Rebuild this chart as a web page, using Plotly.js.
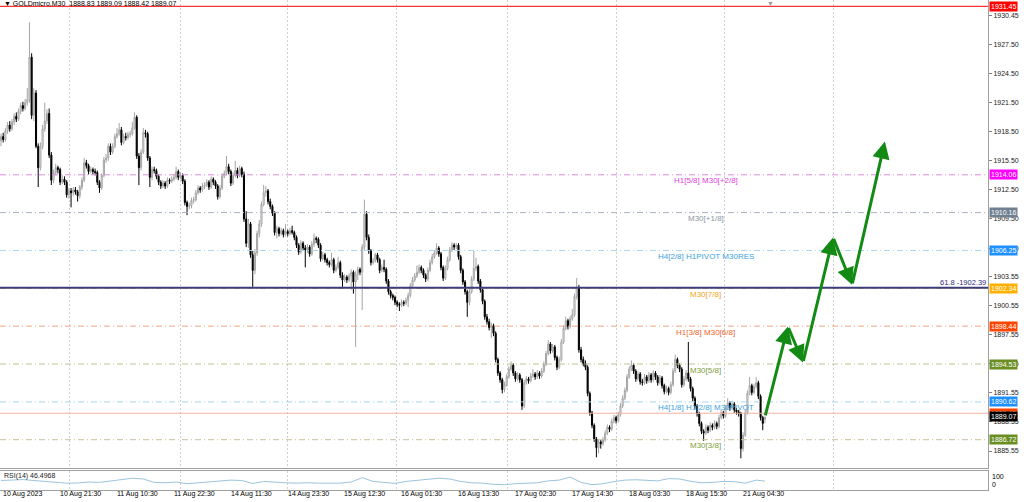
<!DOCTYPE html>
<html><head><meta charset="utf-8">
<script src="https://cdn.plot.ly/plotly-3.0.1.min.js"></script>
<style>html,body{margin:0;padding:0;background:#fff;}#chart{width:1024px;height:502px;}</style>
</head><body><div id="chart"></div>
<script>
const symbolTitle = '\u25BC GOLDmicro,M30  1888.83 1889.09 1888.42 1889.07';

const opens = [
1917.6,1918.0,1917.7,1918.6,1919.2,1918.8,1919.5,1920.1,1919.8,1920.6,
1921.2,1920.9,1921.5,1921.8,1926.2,1920.2,1922.5,1917.0,1914.8,1917.0,
1918.8,1919.6,1920.4,1916.1,1913.5,1914.3,1914.8,1914.6,1913.3,1913.6,
1913.3,1912.0,1912.4,1912.2,1912.5,1912.3,1911.9,1912.8,1913.5,1915.3,
1915.0,1914.4,1914.6,1914.4,1914.3,1913.3,1912.7,1914.0,1915.6,1915.8,
1917.0,1916.4,1917.0,1918.0,1918.3,1918.7,1917.4,1918.0,1917.9,1918.2,
1918.3,1918.9,1920.0,1916.0,1914.8,1916.4,1918.4,1918.3,1915.8,1913.8,
1914.6,1914.5,1913.9,1913.3,1912.9,1913.2,1912.9,1913.5,1913.4,1913.6,
1913.8,1914.4,1913.8,1914.0,1913.4,1911.2,1910.8,1910.9,1911.4,1911.5,
1912.2,1912.7,1912.5,1912.9,1913.0,1913.3,1912.8,1913.6,1913.3,1912.9,
1911.8,1912.7,1913.9,1914.2,1914.9,1914.4,1913.2,1914.0,1914.5,1914.0,
1914.7,1914.1,1909.5,1907.0,1909.0,1905.8,1904.2,1906.0,1908.0,1909.0,
1911.0,1912.2,1912.4,1911.3,1910.8,1910.1,1908.1,1908.5,1908.0,1908.3,
1907.9,1908.2,1908.0,1908.3,1908.1,1907.6,1906.8,1906.1,1907.0,1906.5,
1906.3,1906.6,1905.9,1906.9,1907.5,1907.4,1906.8,1905.4,1905.8,1905.3,
1905.0,1904.8,1905.3,1904.2,1904.5,1905.0,1903.7,1903.2,1903.5,1903.2,
1903.6,1904.0,1903.0,1903.8,1904.3,1904.0,1906.6,1910.0,1907.6,1906.2,
1905.0,1905.2,1905.8,1905.3,1904.2,1904.5,1904.3,1903.1,1902.0,1901.6,
1901.4,1900.9,1900.7,1900.6,1900.9,1900.8,1901.1,1901.6,1902.6,1903.2,
1903.6,1904.0,1904.5,1904.2,1903.7,1903.3,1904.2,1905.0,1905.6,1906.0,
1906.5,1905.9,1904.5,1903.4,1904.4,1905.3,1906.3,1906.8,1906.6,1906.8,
1905.6,1904.2,1903.0,1902.0,1900.9,1902.0,1903.3,1904.4,1904.6,1903.1,
1902.2,1901.0,1899.4,1898.9,1898.3,1898.5,1897.7,1895.0,1893.6,1892.9,
1891.9,1892.4,1893.2,1894.0,1894.4,1893.6,1893.0,1893.4,1892.9,1890.2,
1892.6,1893.0,1892.8,1893.3,1893.5,1893.2,1893.6,1893.3,1893.8,1894.5,
1895.6,1896.6,1895.9,1896.3,1895.2,1894.2,1895.0,1896.8,1898.2,1899.0,
1898.4,1899.2,1899.6,1901.5,1902.4,1896.0,1895.0,1894.6,1894.2,1891.5,
1889.5,1888.2,1886.8,1885.9,1886.5,1886.3,1886.7,1887.4,1888.0,1887.8,
1888.6,1889.0,1888.7,1889.3,1890.2,1891.0,1891.8,1893.2,1894.0,1894.4,
1893.8,1893.0,1893.5,1892.7,1892.6,1893.2,1892.8,1893.4,1892.9,1893.6,
1893.2,1892.6,1893.1,1892.3,1891.7,1892.0,1891.6,1892.4,1893.8,1895.0,
1894.4,1894.0,1892.4,1893.0,1893.6,1893.0,1892.0,1891.0,1890.2,1889.4,
1888.4,1887.6,1887.4,1888.0,1887.7,1888.2,1888.0,1888.4,1888.1,1889.0,
1889.5,1889.2,1890.0,1890.5,1890.0,1890.4,1889.8,1889.6,1889.4,1885.8,
1887.2,1889.5,1891.5,1892.3,1891.6,1892.2,1892.6,1891.2,1889.0,1888.83];

const highs = [
1918.3,1918.4,1918.9,1919.5,1919.6,1919.8,1920.4,1920.5,1920.9,1921.5,
1921.6,1921.9,1923.0,1929.8,1926.6,1923.0,1922.8,1917.3,1917.4,1919.2,
1921.5,1920.8,1920.9,1916.4,1914.6,1915.2,1915.0,1914.8,1914.0,1913.9,
1913.5,1912.7,1912.7,1912.8,1912.8,1912.5,1913.0,1913.8,1915.8,1915.6,
1915.2,1914.9,1914.8,1914.7,1914.5,1913.5,1914.2,1915.9,1916.2,1917.3,
1917.3,1917.3,1918.3,1918.9,1919.4,1919.0,1918.3,1918.4,1918.5,1918.6,
1919.5,1920.5,1920.2,1916.3,1916.7,1918.9,1918.7,1918.5,1916.0,1914.9,
1914.9,1914.7,1914.1,1913.5,1913.5,1913.4,1913.8,1913.7,1913.9,1914.1,
1914.9,1914.6,1914.3,1914.2,1913.6,1911.4,1911.2,1911.7,1911.8,1912.5,
1913.0,1912.9,1913.2,1913.3,1913.6,1913.5,1913.9,1913.8,1913.5,1913.1,
1913.0,1914.2,1914.5,1916.0,1915.2,1914.6,1914.3,1915.5,1914.8,1915.0,
1914.9,1914.4,1910.3,1909.5,1909.2,1906.2,1906.4,1908.3,1909.4,1911.3,
1913.0,1912.9,1912.6,1911.6,1911.0,1910.3,1908.8,1908.7,1908.6,1908.5,
1909.0,1908.4,1908.6,1908.8,1908.3,1907.8,1907.0,1907.3,1907.2,1906.8,
1906.9,1906.8,1907.2,1908.0,1907.7,1907.6,1907.0,1906.1,1906.0,1905.5,
1905.2,1906.0,1905.5,1904.8,1905.6,1905.2,1904.0,1903.8,1903.7,1903.9,
1904.3,1904.2,1904.1,1904.6,1904.5,1906.9,1911.5,1910.3,1907.9,1906.4,
1905.5,1906.0,1906.0,1905.5,1904.8,1905.3,1904.5,1903.3,1902.2,1901.8,
1901.6,1901.1,1900.9,1901.2,1901.1,1901.4,1901.9,1902.9,1903.5,1903.9,
1904.7,1904.8,1904.7,1904.4,1903.9,1904.5,1905.3,1905.9,1906.3,1907.0,
1906.7,1906.1,1904.7,1904.7,1905.6,1906.6,1907.1,1907.0,1907.0,1907.0,
1905.8,1904.4,1903.2,1902.2,1902.3,1903.6,1906.2,1905.5,1904.8,1903.3,
1902.4,1901.2,1899.7,1899.2,1898.8,1898.7,1897.9,1895.2,1893.8,1893.1,
1892.7,1893.5,1894.3,1894.8,1894.6,1893.8,1893.7,1893.6,1893.1,1892.9,
1893.3,1893.2,1893.6,1894.0,1893.7,1893.9,1893.8,1894.1,1894.8,1895.9,
1897.0,1896.8,1896.6,1896.5,1895.4,1895.3,1897.1,1898.5,1899.4,1899.2,
1899.5,1900.2,1901.8,1903.4,1902.7,1896.3,1895.3,1894.9,1894.4,1891.7,
1889.7,1888.4,1887.0,1886.8,1886.7,1887.0,1887.7,1888.3,1888.2,1888.9,
1889.3,1889.2,1889.6,1890.5,1891.3,1892.1,1893.5,1894.3,1894.9,1894.6,
1894.0,1893.8,1893.7,1893.0,1893.5,1893.4,1893.7,1893.6,1893.9,1893.8,
1893.4,1893.4,1893.3,1892.5,1892.3,1892.2,1892.7,1894.1,1895.5,1895.2,
1894.6,1894.2,1893.3,1893.9,1896.8,1893.2,1892.2,1891.2,1890.4,1889.6,
1888.6,1887.8,1888.3,1888.2,1888.5,1888.4,1888.7,1888.6,1889.3,1889.8,
1889.7,1890.3,1891.0,1890.7,1890.7,1890.6,1890.0,1889.8,1889.6,1887.5,
1889.8,1891.8,1893.2,1892.5,1892.5,1893.2,1892.8,1891.4,1889.2,1889.09];

const lows = [
1917.0,1917.4,1917.5,1918.3,1918.5,1918.6,1919.2,1919.5,1919.6,1920.3,
1920.6,1920.7,1921.2,1921.5,1919.8,1919.6,1916.8,1912.8,1914.5,1916.7,
1918.5,1919.3,1915.8,1913.0,1913.2,1914.0,1914.2,1913.0,1913.1,1913.0,
1911.7,1911.6,1910.7,1911.9,1912.0,1911.3,1911.6,1912.5,1913.3,1914.7,
1914.1,1914.2,1914.1,1914.0,1913.0,1912.2,1912.5,1913.8,1915.3,1915.5,
1916.1,1916.2,1916.8,1917.8,1918.1,1917.1,1917.2,1917.6,1917.7,1917.9,
1918.1,1918.7,1915.7,1913.0,1914.5,1916.2,1917.9,1915.5,1912.8,1913.5,
1914.2,1913.6,1913.0,1912.6,1912.7,1912.6,1912.7,1913.1,1913.2,1913.4,
1913.6,1913.5,1913.6,1913.1,1910.9,1909.9,1910.5,1910.6,1911.1,1911.3,
1912.0,1912.2,1912.3,1912.6,1912.8,1912.5,1912.6,1913.0,1912.6,1911.5,
1911.6,1912.5,1913.7,1914.0,1914.1,1912.9,1913.0,1913.8,1913.7,1913.8,
1913.8,1909.2,1906.6,1906.5,1905.5,1902.5,1903.8,1905.7,1907.6,1908.7,
1910.8,1911.8,1911.0,1910.5,1909.8,1907.8,1907.5,1907.7,1907.8,1907.6,
1907.7,1907.7,1907.8,1907.9,1907.3,1906.5,1905.8,1905.9,1906.2,1904.5,
1906.0,1905.6,1905.7,1906.6,1907.0,1906.5,1905.1,1905.2,1905.0,1904.7,
1904.5,1904.6,1903.9,1904.0,1904.3,1903.4,1902.5,1903.0,1902.9,1903.0,
1902.2,1901.8,1896.3,1903.2,1903.7,1900.1,1906.3,1907.3,1905.9,1904.7,
1904.8,1905.0,1905.0,1903.9,1904.0,1904.0,1902.8,1901.7,1901.3,1901.1,
1900.6,1900.4,1900.0,1900.4,1900.5,1900.6,1900.4,1901.4,1902.4,1903.0,
1903.4,1903.8,1903.9,1903.4,1903.0,1903.1,1904.0,1904.8,1905.4,1905.8,
1905.6,1904.2,1903.1,1903.2,1904.2,1905.1,1906.1,1906.3,1906.4,1905.3,
1903.9,1902.7,1901.7,1899.4,1900.6,1901.8,1903.1,1904.1,1902.8,1901.9,
1900.7,1899.1,1898.6,1898.0,1897.2,1897.4,1894.7,1893.3,1892.6,1891.5,
1891.6,1892.2,1893.0,1893.8,1893.3,1892.7,1892.8,1892.6,1889.8,1890.0,
1892.4,1892.5,1892.6,1893.1,1892.9,1893.0,1893.0,1893.1,1893.6,1894.3,
1895.4,1895.6,1895.7,1894.9,1893.9,1894.0,1894.8,1896.6,1898.0,1898.1,
1898.2,1899.0,1899.4,1901.2,1895.7,1894.7,1894.3,1893.9,1891.2,1889.2,
1887.9,1886.5,1884.9,1885.3,1885.8,1886.1,1886.5,1887.2,1887.5,1887.6,
1888.4,1888.4,1888.5,1889.1,1890.0,1890.8,1891.6,1893.0,1893.8,1893.5,
1892.7,1892.8,1892.4,1892.3,1892.4,1892.5,1892.6,1892.6,1892.7,1892.9,
1892.3,1892.4,1892.0,1891.4,1891.5,1891.3,1891.4,1892.2,1893.6,1894.1,
1893.7,1892.1,1892.2,1892.8,1892.7,1891.7,1890.7,1889.9,1889.1,1888.1,
1887.3,1886.6,1887.2,1887.4,1887.5,1887.7,1887.8,1887.8,1887.9,1888.8,
1888.9,1889.0,1889.8,1889.7,1889.8,1889.5,1889.3,1889.1,1884.8,1885.5,
1887.0,1889.3,1891.3,1891.3,1891.4,1892.0,1890.9,1888.7,1887.7,1888.42];

const closes = [
1918.0,1917.7,1918.6,1919.2,1918.8,1919.5,1920.1,1919.8,1920.6,1921.2,
1920.9,1921.5,1921.8,1926.2,1920.2,1922.5,1917.0,1914.8,1917.0,1918.8,
1919.6,1920.4,1916.1,1913.5,1914.3,1914.8,1914.6,1913.3,1913.6,1913.3,
1912.0,1912.4,1912.2,1912.5,1912.3,1911.9,1912.8,1913.5,1915.3,1915.0,
1914.4,1914.6,1914.4,1914.3,1913.3,1912.7,1914.0,1915.6,1915.8,1917.0,
1916.4,1917.0,1918.0,1918.3,1918.7,1917.4,1918.0,1917.9,1918.2,1918.3,
1918.9,1920.0,1916.0,1914.8,1916.4,1918.4,1918.3,1915.8,1913.8,1914.6,
1914.5,1913.9,1913.3,1912.9,1913.2,1912.9,1913.5,1913.4,1913.6,1913.8,
1914.4,1913.8,1914.0,1913.4,1911.2,1910.8,1910.9,1911.4,1911.5,1912.2,
1912.7,1912.5,1912.9,1913.0,1913.3,1912.8,1913.6,1913.3,1912.9,1911.8,
1912.7,1913.9,1914.2,1914.9,1914.4,1913.2,1914.0,1914.5,1914.0,1914.7,
1914.1,1909.5,1907.0,1909.0,1905.8,1904.2,1906.0,1908.0,1909.0,1911.0,
1912.2,1912.4,1911.3,1910.8,1910.1,1908.1,1908.5,1908.0,1908.3,1907.9,
1908.2,1908.0,1908.3,1908.1,1907.6,1906.8,1906.1,1907.0,1906.5,1906.3,
1906.6,1905.9,1906.9,1907.5,1907.4,1906.8,1905.4,1905.8,1905.3,1905.0,
1904.8,1905.3,1904.2,1904.5,1905.0,1903.7,1903.2,1903.5,1903.2,1903.6,
1904.0,1903.0,1903.8,1904.3,1904.0,1906.6,1910.0,1907.6,1906.2,1905.0,
1905.2,1905.8,1905.3,1904.2,1904.5,1904.3,1903.1,1902.0,1901.6,1901.4,
1900.9,1900.7,1900.6,1900.9,1900.8,1901.1,1901.6,1902.6,1903.2,1903.6,
1904.0,1904.5,1904.2,1903.7,1903.3,1904.2,1905.0,1905.6,1906.0,1906.5,
1905.9,1904.5,1903.4,1904.4,1905.3,1906.3,1906.8,1906.6,1906.8,1905.6,
1904.2,1903.0,1902.0,1900.9,1902.0,1903.3,1904.4,1904.6,1903.1,1902.2,
1901.0,1899.4,1898.9,1898.3,1898.5,1897.7,1895.0,1893.6,1892.9,1891.9,
1892.4,1893.2,1894.0,1894.4,1893.6,1893.0,1893.4,1892.9,1890.2,1892.6,
1893.0,1892.8,1893.3,1893.5,1893.2,1893.6,1893.3,1893.8,1894.5,1895.6,
1896.6,1895.9,1896.3,1895.2,1894.2,1895.0,1896.8,1898.2,1899.0,1898.4,
1899.2,1899.6,1901.5,1902.4,1896.0,1895.0,1894.6,1894.2,1891.5,1889.5,
1888.2,1886.8,1885.9,1886.5,1886.3,1886.7,1887.4,1888.0,1887.8,1888.6,
1889.0,1888.7,1889.3,1890.2,1891.0,1891.8,1893.2,1894.0,1894.4,1893.8,
1893.0,1893.5,1892.7,1892.6,1893.2,1892.8,1893.4,1892.9,1893.6,1893.2,
1892.6,1893.1,1892.3,1891.7,1892.0,1891.6,1892.4,1893.8,1895.0,1894.4,
1894.0,1892.4,1893.0,1893.6,1893.0,1892.0,1891.0,1890.2,1889.4,1888.4,
1887.6,1887.4,1888.0,1887.7,1888.2,1888.0,1888.4,1888.1,1889.0,1889.5,
1889.2,1890.0,1890.5,1890.0,1890.4,1889.8,1889.6,1889.4,1885.8,1887.2,
1889.5,1891.5,1892.3,1891.6,1892.2,1892.6,1891.2,1889.0,1888.4,1889.07];

const rsiBars = [0,5,10,15,20,25,30,35,40,45,50,55,60,65,70,75,80,85,90,95,
100,105,110,115,120,125,130,135,140,145,150,155,160,165,170,175,180,185,190,195,
200,205,210,215,220,225,230,235,240,245,250,255,260,265,270,275,280,285,290,295,
300,305,310,315,320,325,330,335,340,345,349];
const rsiValues = [50,52,55,50,45,38,36,37,42,40,48,55,62,58,40,38,42,33,38,42,
48,52,50,34,45,40,38,36,38,36,35,36,42,65,45,40,35,45,50,56,
62,58,45,38,36,30,28,33,36,38,48,52,68,40,28,33,44,52,54,50,
48,60,58,46,38,40,45,44,36,52,46.5];
const rsiLabel = 'RSI(14) 46.4968';
const rsiScaleLabels = ['100', '0'];

const timeLabels = ['10 Aug 2023','10 Aug 21:30','11 Aug 10:30','11 Aug 22:30','14 Aug 11:30','14 Aug 23:30','15 Aug 12:30','16 Aug 01:30','16 Aug 13:30','17 Aug 02:30','17 Aug 14:30','18 Aug 03:30','18 Aug 15:30','21 Aug 04:30'];
const timeLabelBars = [0,26,52,78,104,130,156,182,208,234,260,286,312,338];
const gridBars = [31.5,81.8,131.1,180.9,231.2,281.0,330.7,380.5];

const priceTicks = [1930.45,1927.50,1924.50,1921.50,1918.50,1915.50,1912.50,1909.50,1906.50,1903.55,1900.55,1897.55,1894.55,1891.55,1888.55,1885.55];

const levelPrices = [1914.06,1910.16,1906.25,1902.34,1898.44,1894.53,1890.62,1886.72];
const levelNames = ['H1[5/8] M30[+2/8]','M30[+1/8]','H4[2/8] H1PIVOT M30RES','M30[7/8]','H1[3/8] M30[6/8]','M30[5/8]','H4[1/8] H1[2/8] M30PIVOT','M30[3/8]'];
const levelLabelBar = 322;
const topLinePrice = 1931.45;
const fibPrice = 1902.39;
const fibText = '61.8 -1902.39';
const askPrice = 1889.45;
const bidPrice = 1889.07;

const arrowBars = [349,359.5,366.4,380.1,388.8,403.8];
const arrowPrices = [1889.07,1898.4,1894.7,1907.6,1902.7,1917.5];

// styles
const levelLineColors = ['#dc8cdc','#aab4be','#a6d6ee','#f3c46a','#eea586','#b9c896','#a6d6ee','#c9c29a'];
const levelTextColors = ['#e040e0','#8a96a3','#3ea2e0','#f2a424','#f0622c','#7e9e3c','#3ea2e0','#7e9e3c'];
const levelBoxColors = ['#ff00ff','#708090','#1e90ff','#ffb000','#ff4500','#6b8e23','#1e90ff','#6b8e23'];

const FONT = 'Liberation Sans, Arial, sans-serif';
const H = 502, W = 1024;
const plotRight = 988 / W;
const barIndex = closes.map((_, i) => i);

const traces = [
  {
    type: 'candlestick', x: barIndex, open: opens, high: highs, low: lows, close: closes,
    xaxis: 'x', yaxis: 'y',
    increasing: {line: {color: '#a4a4a4', width: 1}, fillcolor: '#ffffff'},
    decreasing: {line: {color: '#000000', width: 1}, fillcolor: '#000000'},
    whiskerwidth: 0, hoverinfo: 'skip', showlegend: false
  },
  {
    type: 'scatter', mode: 'lines', x: rsiBars, y: rsiValues, xaxis: 'x', yaxis: 'y2',
    line: {color: '#9cc4de', width: 1}, hoverinfo: 'skip', showlegend: false
  }
];

const DASHDOT = '6px,3px,1px,3px';
const shapes = [];
levelPrices.forEach((p, k) => {
  shapes.push({type: 'line', xref: 'x domain', yref: 'y', x0: 0, x1: 1, y0: p, y1: p,
    line: {color: levelLineColors[k], width: 1, dash: DASHDOT}});
});
shapes.push({type: 'line', xref: 'x domain', yref: 'y', x0: 0, x1: 1, y0: topLinePrice, y1: topLinePrice, line: {color: '#ff0000', width: 1}});
shapes.push({type: 'line', xref: 'x domain', yref: 'y', x0: 0, x1: 1, y0: askPrice, y1: askPrice, line: {color: '#f2b2a2', width: 1}});
shapes.push({type: 'line', xref: 'x domain', yref: 'y', x0: 0, x1: 1, y0: fibPrice, y1: fibPrice, line: {color: '#3b3b7e', width: 2}});

const ann = [];
ann.push({xref: 'paper', yref: 'paper', x: 0.002, y: 1, xanchor: 'left', yanchor: 'top', yshift: 2,
  text: symbolTitle, showarrow: false, font: {family: FONT, size: 7, color: '#000'}});
ann.push({xref: 'paper', yref: 'paper', x: 770 / W, y: 1, xanchor: 'center', yanchor: 'top', yshift: 2,
  text: '\u25BC', showarrow: false, font: {family: FONT, size: 7, color: '#9a9a9a'}});

levelPrices.forEach((p, k) => {
  ann.push({xref: 'x', yref: 'y', x: levelLabelBar, y: p, yshift: -6, xanchor: 'center', yanchor: 'middle',
    text: levelNames[k], showarrow: false, font: {family: FONT, size: 8, color: levelTextColors[k]}});
});
ann.push({xref: 'paper', yref: 'y', x: plotRight, y: fibPrice, xanchor: 'right', yanchor: 'bottom', yshift: -1,
  text: fibText, showarrow: false, font: {family: FONT, size: 7.5, color: '#2c2c7c'}});

const boxes = [[topLinePrice, '#ff0000']];
levelPrices.forEach((p, k) => boxes.push([p, levelBoxColors[k]]));
boxes.push([askPrice, '#ff4500']);
boxes.push([bidPrice, '#000000']);
boxes.forEach(([p, c]) => {
  ann.push({xref: 'paper', yref: 'y', x: 989 / W, y: p, xanchor: 'left', yanchor: 'middle',
    text: p.toFixed(2), showarrow: false, bgcolor: c, borderpad: 1,
    font: {family: FONT, size: 7, color: '#ffffff'}});
});

timeLabels.forEach((t, k) => {
  ann.push({xref: 'x', yref: 'paper', x: timeLabelBars[k], y: (H - 494) / H, xanchor: 'left', yanchor: 'middle',
    text: t, showarrow: false, font: {family: FONT, size: 7, color: '#000'}});
});

ann.push({xref: 'paper', yref: 'paper', x: 0.002, y: (H - 476) / H, xanchor: 'left', yanchor: 'middle',
  text: rsiLabel, showarrow: false, font: {family: FONT, size: 7, color: '#222'}});
ann.push({xref: 'paper', yref: 'paper', x: 990 / W, y: (H - 476) / H, xanchor: 'left', yanchor: 'middle',
  text: rsiScaleLabels[0], showarrow: false, font: {family: FONT, size: 7, color: '#000'}});
ann.push({xref: 'paper', yref: 'paper', x: 990 / W, y: (H - 484) / H, xanchor: 'left', yanchor: 'middle',
  text: rsiScaleLabels[1], showarrow: false, font: {family: FONT, size: 7, color: '#000'}});

for (let k = 1; k < arrowBars.length; k++) {
  ann.push({xref: 'x', yref: 'y', axref: 'x', ayref: 'y',
    x: arrowBars[k], y: arrowPrices[k], ax: arrowBars[k - 1], ay: arrowPrices[k - 1],
    showarrow: true, arrowhead: 2, arrowsize: 1.15, arrowwidth: 3, arrowcolor: '#138a13', text: ''});
}

const layout = {
  width: W, height: H,
  margin: {l: 0, r: 0, t: 0, b: 0},
  paper_bgcolor: '#ffffff', plot_bgcolor: '#ffffff',
  showlegend: false, hovermode: false,
  font: {family: FONT, size: 7, color: '#000'},
  xaxis: {
    domain: [0, plotRight], range: [-0.457, 450.9], anchor: 'y2',
    tickvals: gridBars, showticklabels: false, ticks: '',
    showgrid: true, gridcolor: '#cfcfcf', griddash: '2px,2px', gridwidth: 1,
    zeroline: false, showline: true, linecolor: '#a0a0a0', linewidth: 1, mirror: 'all',
    rangeslider: {visible: false}, fixedrange: true
  },
  yaxis: {
    domain: [(H - 468) / H, 1], range: [1883.80, 1932.10], side: 'right', anchor: 'x',
    tickvals: priceTicks, ticktext: priceTicks.map(v => v.toFixed(2)),
    ticks: 'outside', ticklen: 3, tickcolor: '#808080',
    tickfont: {family: FONT, size: 7, color: '#222'},
    showgrid: false, zeroline: false, showline: true, linecolor: '#a0a0a0', linewidth: 1, mirror: true,
    fixedrange: true
  },
  yaxis2: {
    domain: [(H - 490) / H, (H - 471) / H], range: [0, 100], side: 'right', anchor: 'x',
    showticklabels: false, ticks: '', showgrid: false, zeroline: false,
    showline: true, linecolor: '#a0a0a0', linewidth: 1, mirror: true, fixedrange: true
  },
  shapes: shapes,
  annotations: ann
};

Plotly.newPlot('chart', traces, layout, {staticPlot: true, displayModeBar: false});
</script>
</body></html>
